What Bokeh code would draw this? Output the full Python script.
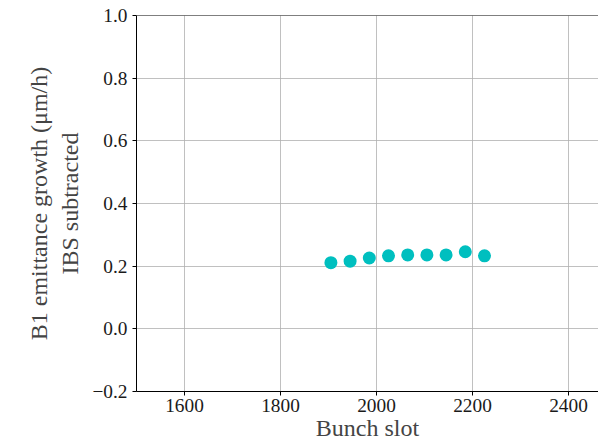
from bokeh.plotting import figure
from bokeh.models import FixedTicker, CustomJSTickFormatter, Span, Range1d
from bokeh.embed import file_html
from bokeh.resources import INLINE

bunch_slot = [1905, 1945, 1985, 2025, 2065, 2105, 2145, 2185, 2225]
growth = [0.211, 0.216, 0.226, 0.233, 0.236, 0.236, 0.236, 0.246, 0.233]
x_ticks = [1600, 1800, 2000, 2200, 2400]
y_ticks = [-0.2, 0.0, 0.2, 0.4, 0.6, 0.8, 1.0]

FONT = "serif"

p = figure(width=598, height=443, output_backend="svg", toolbar_location=None,
           x_range=Range1d(1500, 2462.5), y_range=Range1d(-0.2, 1.0),
           min_border_left=136, min_border_top=15, min_border_bottom=51,
           min_border_right=0)
p.outline_line_color = None

p.scatter(bunch_slot, growth, size=13, color="#00BFBF", line_color=None)

p.xaxis.major_label_text_font = FONT
p.xaxis.major_label_text_font_size = "14.5pt"
p.xaxis.major_label_text_color = "#1a1a1a"
p.yaxis.major_label_text_font = FONT
p.yaxis.major_label_text_font_size = "14.5pt"
p.yaxis.major_label_text_color = "#1a1a1a"
p.axis.axis_label_text_font = FONT
p.axis.axis_label_text_font_size = "24px"
p.axis.axis_label_text_font_style = "normal"
p.axis.major_tick_out = 4
p.axis.major_tick_in = 0
p.axis.minor_tick_out = 0
p.axis.minor_tick_in = 0

p.xaxis.ticker = FixedTicker(ticks=x_ticks)
p.yaxis.ticker = FixedTicker(ticks=y_ticks)
p.yaxis.formatter = CustomJSTickFormatter(code="""
    const s = tick.toFixed(1);
    return s.replace('-', '\u2212');
""")
p.xaxis.axis_label = "Bunch slot"
p.yaxis.axis_label = "B1 emittance growth (\u03bcm/h)\nIBS subtracted"
p.xaxis.axis_label_standoff = 0
p.yaxis.axis_label_standoff = 6
p.xaxis.major_label_standoff = 3
p.yaxis.major_label_standoff = 5

p.xgrid.grid_line_color = "#b0b0b0"
p.ygrid.grid_line_color = "#b0b0b0"
p.xgrid.grid_line_width = 0.8
p.ygrid.grid_line_width = 0.8

p.add_layout(Span(location=1.0, dimension="width", line_color="black", line_width=1.2))

open("out.html", "w").write(file_html(p, INLINE))
